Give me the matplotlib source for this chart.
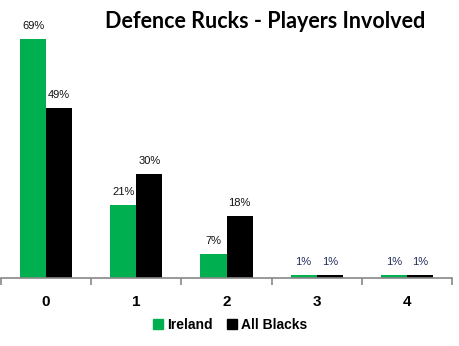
import matplotlib
matplotlib.use("Agg")
import matplotlib.pyplot as plt
import numpy as np
from matplotlib.patches import Patch

categories = ["0", "1", "2", "3", "4"]
ireland = [69, 21, 7, 1, 1]
all_blacks = [49, 30, 18, 1, 1]
series_names = ["Ireland", "All Blacks"]
title = "Defence Rucks - Players Involved"

green = "#00B050"
black = "#000000"

fig = plt.figure(figsize=(4.59, 3.46), dpi=100)
W, H = 459, 346
ax = fig.add_axes([1 / W, (H - 278) / H, 451 / W, 242.5 / H])

x = np.arange(len(categories))
w = 0.29
ax.bar(x - w / 2, ireland, w, color=green, zorder=2)
ax.bar(x + w / 2, all_blacks, w, color=black, zorder=2)


def label_bars(xs, vals):
    for xi, v in zip(xs, vals):
        ax.annotate(f"{v}%", (xi, v), xytext=(0, 8), textcoords="offset pixels",
                    ha="center", va="bottom", fontsize=8, family="Liberation Sans",
                    color="#111111" if v > 5 else "#1f2d5a")


label_bars(x - w / 2, ireland)
label_bars(x + w / 2, all_blacks)

ax.set_xlim(-0.5, len(categories) - 0.5)
ax.set_ylim(0, 70)
for s in ["top", "right", "left"]:
    ax.spines[s].set_visible(False)
ax.spines["bottom"].set_color("#888888")
ax.spines["bottom"].set_linewidth(1.2)
ax.set_yticks([])
ax.set_xticks(np.arange(-0.5, len(categories), 1.0))
ax.set_xticklabels([])
ax.tick_params(axis="x", which="major", length=5, color="#888888", width=1.2)
ax.set_xticks(x, minor=True)
ax.set_xticklabels(categories, minor=True, fontsize=11, fontweight="bold",
                   family="Liberation Sans")
ax.tick_params(axis="x", which="minor", length=0, pad=12)

fig.text(265 / W, 1 - 21 / H, title, ha="center", va="center", fontsize=15.5,
         fontweight="bold", family="Lato")

handles = [Patch(color=green), Patch(color=black)]
fig.legend(handles, series_names, loc="center", bbox_to_anchor=(230 / W, 1 - 325 / H),
           ncol=2, frameon=False, prop={"family": "Liberation Sans", "weight": "bold", "size": 10},
           handlelength=0.75, handleheight=0.75, handletextpad=0.3, columnspacing=1.0)

fig.savefig("out.png", dpi=100)
